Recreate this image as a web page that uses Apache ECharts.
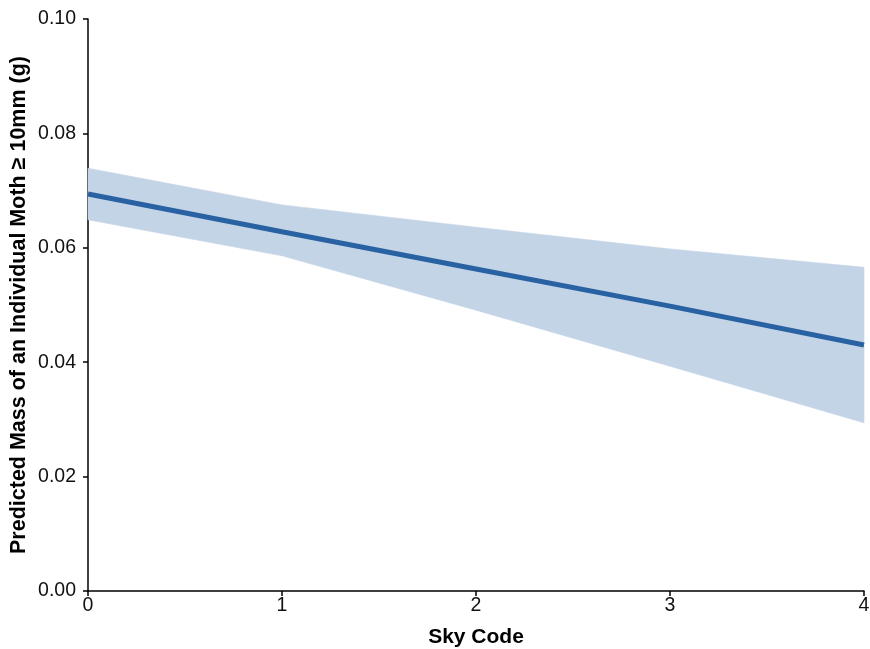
<!DOCTYPE html>
<html>
<head>
<meta charset="utf-8">
<script src="https://cdn.jsdelivr.net/npm/echarts@6/dist/echarts.min.js"></script>
<style>
  html, body { margin: 0; padding: 0; background: #ffffff; }
  #chart { width: 870px; height: 649px; }
</style>
</head>
<body>
<div id="chart"></div>
<script>
// Sky code values along the x axis
const skyCodes = [0, 1, 2, 3, 4];
// Predicted mass (g) and its confidence interval at each sky code
const predicted = [0.0694, 0.0628, 0.0563, 0.0498, 0.0430];
const upperCI   = [0.0739, 0.0675, 0.0636, 0.0598, 0.0566];
const lowerCI   = [0.0649, 0.0586, 0.0491, 0.0393, 0.0294];
const yTicks = [0.00, 0.02, 0.04, 0.06, 0.08, 0.10];

const font = 'Liberation Sans, Arial, Helvetica, sans-serif';

// One band segment per pair of neighbouring sky codes
const bandData = [];
for (let i = 0; i < skyCodes.length - 1; i++) {
  bandData.push([skyCodes[i], lowerCI[i], upperCI[i],
                 skyCodes[i + 1], lowerCI[i + 1], upperCI[i + 1]]);
}
const lineData = skyCodes.map((x, i) => [x, predicted[i]]);

function renderBand(params, api) {
  const a = api.coord([api.value(0), api.value(1)]);
  const b = api.coord([api.value(0), api.value(2)]);
  const c = api.coord([api.value(3), api.value(5)]);
  const d = api.coord([api.value(3), api.value(4)]);
  return {
    type: 'polygon',
    shape: { points: [a, b, c, d] },
    style: { fill: '#c3d4e6', stroke: '#c3d4e6', lineWidth: 0.6 }
  };
}

const chart = echarts.init(document.getElementById('chart'), null, { renderer: 'canvas' });
chart.setOption({
  animation: false,
  backgroundColor: '#ffffff',
  grid: {
    left: 88, top: 19, width: 776, height: 572,
    containLabel: false, outerBoundsMode: 'none'
  },
  xAxis: {
    type: 'value', min: 0, max: 4, interval: 1,
    name: 'Sky Code', nameLocation: 'middle', nameGap: 36, nameMoveOverlap: false,
    nameTextStyle: { fontFamily: font, fontWeight: 'bold', fontSize: 21, color: '#000' },
    axisLine: { show: true, onZero: false, lineStyle: { color: '#000', width: 1.5 } },
    axisTick: { show: true, length: 5, lineStyle: { color: '#000', width: 1.5 } },
    axisLabel: { fontFamily: font, fontSize: 19.5, color: '#111', margin: 5 },
    splitLine: { show: false }
  },
  yAxis: {
    type: 'value', min: 0, max: 0.1, interval: 0.02,
    name: 'Predicted Mass of an Individual Moth \u2265 10mm (g)',
    nameLocation: 'middle', nameGap: 58, nameMoveOverlap: false,
    nameTextStyle: { fontFamily: font, fontWeight: 'bold', fontSize: 21.5, color: '#000' },
    axisLine: { show: true, onZero: false, lineStyle: { color: '#000', width: 1.5 } },
    axisTick: { show: true, length: 5, lineStyle: { color: '#000', width: 1.5 } },
    axisLabel: {
      fontFamily: font, fontSize: 19.5, color: '#111', margin: 12,
      formatter: v => yTicks.find(t => Math.abs(t - v) < 1e-9).toFixed(2)
    },
    splitLine: { show: false }
  },
  series: [
    {
      type: 'custom', data: bandData, renderItem: renderBand, silent: true,
      encode: { x: [0, 3], y: [1, 2, 4, 5] }, z: 1
    },
    {
      type: 'line', data: lineData, symbol: 'none', silent: true,
      lineStyle: { color: '#2862a3', width: 5 }, z: 5
    }
  ]
});
</script>
</body>
</html>
